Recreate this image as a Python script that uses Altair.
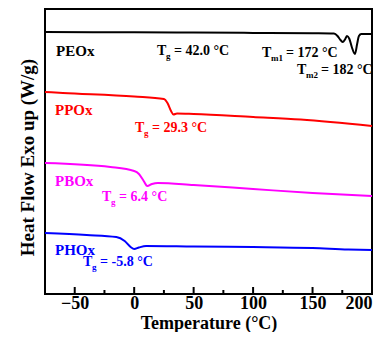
import altair as alt
import pandas as pd

# ---- data (y in arbitrary units) ----
peox_t = [-75, 0, 50, 100, 150, 168, 171, 173.5, 175.6, 177.5, 179, 181, 183, 185.7, 187.5, 189, 191, 200]
peox_y = [262, 261.7, 261.4, 261.1, 260.7, 260.4, 258, 254, 252, 255, 258, 255, 247, 240, 250, 258, 260, 260]

ppox_t = [-75, -60, 0, 25, 28, 31, 33, 36, 50, 100, 140, 200]
ppox_y = [202, 201, 197.5, 195, 191, 183, 179.5, 180.5, 180, 177, 174.5, 168]

pbox_t = [-75, -20, 0, 4, 8, 11, 15, 20, 50, 100, 150, 200]
pbox_y = [131, 127, 123, 120, 113, 108, 110, 111, 109, 105, 101, 98]

phox_t = [-75, -40, -15, -8, -3, 0, 4, 10, 50, 100, 150, 180, 200]
phox_y = [61, 59, 57, 53, 47, 45, 46.5, 48, 47.5, 47, 46, 44.5, 44]

series_names = ["PEOx", "PPOx", "PBOx", "PHOx"]
series_colors = ["#000000", "#ff0000", "#ff00ff", "#0000ff"]

# sample labels
name_x = [-65.7, -66.6, -66.6, -66.6]
name_y = [243, 184, 113, 44]

# transition labels: main letter, subscript, rest
ann_x = [19.2, 107.5, 136.9, 0.7, -27, -43]
ann_y = [243, 241, 224, 166, 97, 32]
ann_sub = ["g", "m1", "m2", "g", "g", "g"]
ann_rest = ["= 42.0 °C", "= 172 °C", "= 182 °C", "= 29.3 °C", "= 6.4 °C", "= -5.8 °C"]
ann_color = ["#000000", "#000000", "#000000", "#ff0000", "#ff00ff", "#0000ff"]

major_ticks = [-50, 0, 50, 100, 150, 200]
minor_ticks = [-25, 25, 75, 125, 175]

FONT = "Liberation Serif"
H = 285

rows = []
for name, ts, ys in zip(series_names,
                        [peox_t, ppox_t, pbox_t, phox_t],
                        [peox_y, ppox_y, pbox_y, phox_y]):
    for i, (t, y) in enumerate(zip(ts, ys)):
        rows.append({"series": name, "T": t, "y": y, "order": i})
df = pd.DataFrame(rows)

xscale = alt.Scale(domain=[-75, 200], nice=False, zero=False)
yscale = alt.Scale(domain=[0, H], nice=False, zero=False)
color_scale = alt.Scale(domain=series_names, range=series_colors)

xaxis = alt.Axis(values=major_ticks, ticks=False, domain=False, grid=False,
                 labelFont=FONT, labelFontSize=18, labelFontWeight="bold",
                 labelColor="black", labelPadding=0,
                 title="Temperature (°C)", titleFont=FONT, titleFontSize=18,
                 titleFontWeight="bold", titleColor="black", titlePadding=2)
yaxis = alt.Axis(labels=False, ticks=False, domain=False, grid=False,
                 title="Heat Flow Exo up (W/g)", titleFont=FONT, titleFontSize=19,
                 titleFontWeight="bold", titleColor="black", titlePadding=8,
                 titleY=148)

lines = alt.Chart(df).mark_line(strokeWidth=2, interpolate="monotone").encode(
    x=alt.X("T:Q", scale=xscale, axis=xaxis),
    y=alt.Y("y:Q", scale=yscale, axis=yaxis),
    color=alt.Color("series:N", scale=color_scale, legend=None),
    detail="series:N",
    order="order:Q",
)

major_df = pd.DataFrame({"T": major_ticks})
minor_df = pd.DataFrame({"T": minor_ticks})
major = alt.Chart(major_df).mark_rule(color="black", strokeWidth=2).encode(
    x=alt.X("T:Q", scale=xscale), y=alt.value(H), y2=alt.value(H - 7))
minor = alt.Chart(minor_df).mark_rule(color="black", strokeWidth=2).encode(
    x=alt.X("T:Q", scale=xscale), y=alt.value(H), y2=alt.value(H - 4))

names_df = pd.DataFrame({"T": name_x, "y": name_y, "name": series_names, "c": series_colors})
names = alt.Chart(names_df).mark_text(align="left", baseline="middle", font=FONT,
                                       fontSize=15, fontWeight="bold").encode(
    x=alt.X("T:Q", scale=xscale), y=alt.Y("y:Q", scale=yscale),
    text="name:N", color=alt.Color("c:N", scale=None))

layers = [lines, major, minor, names]
for ax, ay, sub, rest, col in zip(ann_x, ann_y, ann_sub, ann_rest, ann_color):
    d = pd.DataFrame({"T": [ax], "y": [ay], "main": ["T"], "sub": [sub], "rest": [rest]})
    base = alt.Chart(d).encode(x=alt.X("T:Q", scale=xscale), y=alt.Y("y:Q", scale=yscale))
    sub_w = 5 if sub == "g" else 12
    layers.append(base.mark_text(align="left", baseline="middle", font=FONT, fontSize=14,
                                 fontWeight="bold", color=col).encode(text="main:N"))
    layers.append(base.mark_text(align="left", baseline="middle", font=FONT, fontSize=9,
                                 fontWeight="bold", color=col, dx=9, dy=5).encode(text="sub:N"))
    layers.append(base.mark_text(align="left", baseline="middle", font=FONT, fontSize=14,
                                 fontWeight="bold", color=col, dx=9 + sub_w + 3).encode(text="rest:N"))

chart = alt.layer(*layers).properties(
    width=327, height=H,
    autosize=alt.AutoSizeParams(type="none"),
    padding={"left": 37, "top": 1, "right": 7, "bottom": 38},
    background="white",
).configure_view(stroke="black", strokeWidth=2)

chart.save("out.html", embed_options={"renderer": "svg", "actions": False})
